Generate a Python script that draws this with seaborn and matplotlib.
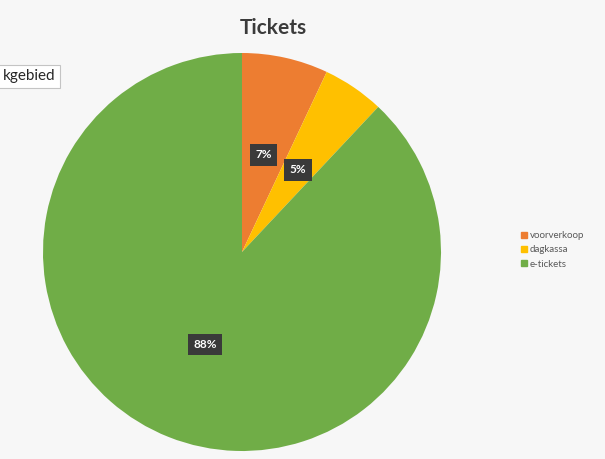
import matplotlib
matplotlib.use("Agg")
import matplotlib.pyplot as plt
import seaborn as sns

# data
categories = ["voorverkoop", "dagkassa", "e-tickets"]
shares = [7, 5, 88]
colors = ["#ED7D31", "#FFC000", "#70AD47"]

sns.set_style("white")
plt.rcParams["font.family"] = ["Lato", "DejaVu Sans"]

fig = plt.figure(figsize=(6.05, 4.59), dpi=100, facecolor="#f7f7f7")
ax = fig.add_axes([0, 0, 1, 1])

wedges, _, autotexts = ax.pie(shares, colors=colors, startangle=90, counterclock=False,
                              radius=1, center=(0, 0), autopct="%1.0f%%",
                              pctdistance=0.5, wedgeprops=dict(linewidth=0))

for t in autotexts:
    t.set_color("white")
    t.set_fontsize(8.5)
    t.set_fontweight("bold")
    t.set_bbox(dict(boxstyle="square,pad=0.45", fc="#3a3a3a", ec="none"))

# pie centre at pixel (242, 252), radius ~199 px
ax.set_xlim(-242 / 199, 363 / 199)
ax.set_ylim(-207 / 199, 252 / 199)
ax.set_aspect("auto")
ax.axis("off")

fig.text(0.451, 0.94, "Tickets", ha="center", va="center",
         fontsize=15, fontweight="bold", color="#3b3b3b")

# leftover chart-area tooltip, cut off at the left edge
fig.text(0.004, 0.834, "kgebied", ha="left", va="center", fontsize=11,
         color="#262626",
         bbox=dict(boxstyle="square,pad=0.3", fc="white", ec="#c4c4c4", lw=0.8))

handles = [plt.Line2D([0], [0], marker="s", linestyle="", markersize=5,
                      markerfacecolor=c, markeredgecolor=c, label=l)
           for l, c in zip(categories, colors)]
leg = fig.legend(handles=handles, loc="upper left", bbox_to_anchor=(0.855, 0.505),
                 frameon=False, fontsize=7, handlelength=0.6, handletextpad=0.3,
                 labelspacing=0.55, borderaxespad=0)
for t in leg.get_texts():
    t.set_color("#595959")

fig.savefig("out.png", dpi=100, facecolor=fig.get_facecolor())
